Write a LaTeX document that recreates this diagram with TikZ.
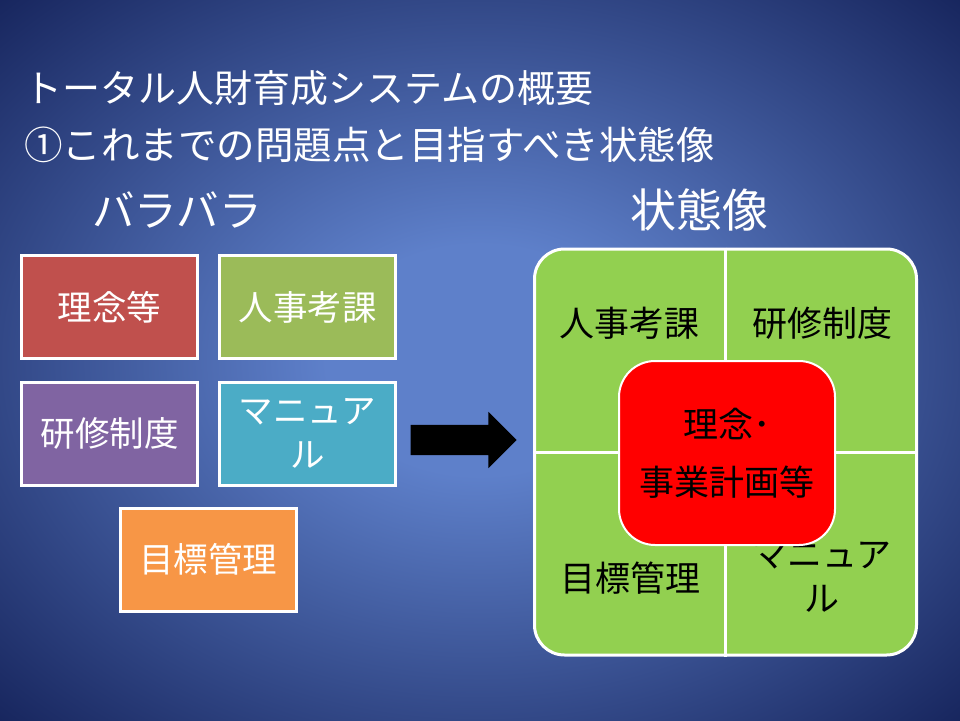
\documentclass[tikz,border=0pt]{standalone}
\usepackage{fontspec}
\setmainfont{Noto Sans CJK JP}
\usetikzlibrary{positioning, shapes.arrows}

\definecolor{bgin}{RGB}{94,128,202}
\definecolor{bgout}{RGB}{22,36,92}
\definecolor{tilered}{RGB}{192,80,77}
\definecolor{tilegreen}{RGB}{155,187,89}
\definecolor{tilepurple}{RGB}{128,100,162}
\definecolor{tileblue}{RGB}{75,172,198}
\definecolor{tileorange}{RGB}{247,150,70}
\definecolor{statefill}{RGB}{146,208,80}

\pgfdeclareradialshading{slidebg}{\pgfpoint{0bp}{0bp}}{color(0bp)=(bgin); color(8bp)=(bgin); color(36bp)=(bgout); color(50bp)=(bgout)}

\tikzset{
  heading/.style={anchor=west, text=white, inner sep=0pt},
  tile/.style={draw=white, line width=3pt, minimum width=176pt, minimum height=103pt,
    inner sep=2pt, text=white, align=center, font=\fontsize{34.5}{44}\selectfont},
  quad/.style={text=black, align=center, font=\fontsize{35}{44}\selectfont},
}

\begin{document}
\begin{tikzpicture}[x=1pt, y=-1pt]
        \useasboundingbox (0,0) rectangle (960,720);
        \shade[shading=slidebg] (0,0) rectangle (960,720);
        % titles
        \node[heading, font=\fontsize{38}{44}\selectfont] (title) at (24,88) {トータル人財育成システムの概要};
        \node[heading, font=\fontsize{38.5}{44}\selectfont] (sub) at (24,145) {①これまでの問題点と目指すべき状態像};
        \node[heading, font=\fontsize{42.5}{50}\selectfont] (before) at (92,210) {バラバラ};
        \node[heading, font=\fontsize{46}{50}\selectfont] (after) at (630,210) {状態像};
        % separate tiles
        \node[tile, fill=tilered] (rinen) at (109.5,307) {理念等};
        \node[tile, fill=tilegreen] (jinji) at (307.5,307) {人事考課};
        \node[tile, fill=tilepurple] (kenshu) at (109.5,433.5) {研修制度};
        \node[tile, fill=tileblue] (manual) at (307.5,433.5) {マニュア\\ル};
        \node[tile, fill=tileorange] (mokuhyo) at (208,559.5) {目標管理};
        % arrow
        \node[single arrow, fill=black, inner xsep=0pt, inner ysep=15pt, minimum height=106pt,
          single arrow head extend=13pt] (arr) at (456,440) {};
        % target state
        \node[draw=white, line width=3pt, fill=statefill, rounded corners=30pt,
          minimum width=382pt, minimum height=406pt, inner sep=0pt] (state) at (725.5,452) {};
        \draw[white, line width=3pt] (state.north) -- (state.south);
        \draw[white, line width=3pt] (state.west) -- (state.east);
        \node[quad] (qjinji) at (629,323) {人事考課};
        \node[quad] (qkenshu) at (822,323) {研修制度};
        \node[quad] (qmokuhyo) at (630,578) {目標管理};
        \node[quad] (qmanual) at (822,577) {マニュア\\ル};
        \node[draw=white, line width=2pt, fill=red, rounded corners=36pt,
          minimum width=216pt, minimum height=184pt, align=center,
          font=\fontsize{35}{58}\selectfont] (core) at (727,453) {理念･\\事業計画等};
\end{tikzpicture}
\end{document}
